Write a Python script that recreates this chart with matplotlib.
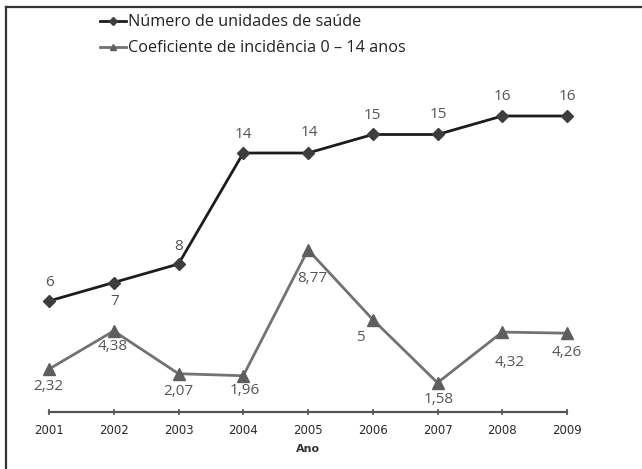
import matplotlib
matplotlib.use("Agg")
import matplotlib.pyplot as plt
from matplotlib.lines import Line2D

years = [2001, 2002, 2003, 2004, 2005, 2006, 2007, 2008, 2009]
unidades = [6, 7, 8, 14, 14, 15, 15, 16, 16]
coeficiente = [2.32, 4.38, 2.07, 1.96, 8.77, 5, 1.58, 4.32, 4.26]
unidades_lbl = ["6", "7", "8", "14", "14", "15", "15", "16", "16"]
coeficiente_lbl = ["2,32", "4,38", "2,07", "1,96", "8,77", "5", "1,58", "4,32", "4,26"]
series_names = ["Número de unidades de saúde", "Coeficiente de incidência 0 – 14 anos"]

plt.rcParams['font.family'] = ['Open Sans', 'DejaVu Sans']

W, H = 642, 469
fig = plt.figure(figsize=(W / 100, H / 100), dpi=100)
fig.patch.set_facecolor("white")

# frame lines on the left and top of the panel
fig.add_artist(Line2D([6 / W, 6 / W], [0, 1 - 7 / H], color="#333333", lw=1.6))
fig.add_artist(Line2D([6 / W, 1], [1 - 7 / H, 1 - 7 / H], color="#333333", lw=1.6))

# axes: x from 2001 (x=49px) to 2009 (x=567px), y=0 at 412px
x0, x1 = 49, 567
y0 = 412
ymax = 20
px_per_unit = 18.5
ax_h = ymax * px_per_unit
ax = fig.add_axes([x0 / W, (H - y0) / H, (x1 - x0) / W, ax_h / H])
ax.set_xlim(2001, 2009)
ax.set_ylim(0, ymax)
ax.patch.set_alpha(0)
for s in ["top", "right", "left"]:
    ax.spines[s].set_visible(False)
ax.spines["bottom"].set_color("#555555")
ax.spines["bottom"].set_linewidth(1.6)
ax.yaxis.set_visible(False)
ax.set_xticks(years)
ax.set_xticklabels([str(y) for y in years], fontsize=8.5, color="#2a2a2a",
                   family=["Liberation Sans Narrow", "DejaVu Sans"])
ax.tick_params(axis="x", direction="inout", length=5, width=1.2, color="#555555", pad=6)
ax.set_xlabel("Ano", fontsize=8, fontweight="bold", color="#333333", labelpad=5,
              family=["Liberation Sans Narrow", "DejaVu Sans"])

black = "#1c1c1c"
gray = "#727272"
ax.plot(years, unidades, color=black, lw=2, marker="D", markersize=6,
        markerfacecolor="#3d3d3d", markeredgecolor="#3d3d3d", clip_on=False,
        label=series_names[0])
ax.plot(years, coeficiente, color=gray, lw=2, marker="^", markersize=8.5,
        markerfacecolor="#5e5e5e", markeredgecolor="#5e5e5e", clip_on=False,
        label=series_names[1])

lbl_color = "#555555"
# label offsets in pixels (dx, dy)
u_off = [(0, 19), (1, -19), (0, 18), (0, 19), (1, 21), (0, 19), (1, 20), (0, 19), (0, 20)]
c_off = [(-1, -17), (-1, -16), (0, -18), (2, -15), (4, -29), (-12, -18), (1, -17), (7, -30), (0, -19)]
for x, v, t, (dx, dy) in zip(years, unidades, unidades_lbl, u_off):
    ax.annotate(t, (x, v), xytext=(dx, dy), textcoords="offset pixels",
                ha="center", va="center", fontsize=11, color=lbl_color)
for x, v, t, (dx, dy) in zip(years, coeficiente, coeficiente_lbl, c_off):
    ax.annotate(t, (x, v), xytext=(dx, dy), textcoords="offset pixels",
                ha="center", va="center", fontsize=11, color=lbl_color)

handles = [
    Line2D([], [], color=black, lw=2, marker="D", markersize=4,
           markerfacecolor="#3d3d3d", markeredgecolor="#3d3d3d"),
    Line2D([], [], color=gray, lw=2, marker="^", markersize=5,
           markerfacecolor="#5e5e5e", markeredgecolor="#5e5e5e"),
]
fig.legend(handles, series_names, loc="upper left",
           bbox_to_anchor=(94 / W, 1 - 8 / H), frameon=False, fontsize=11.7,
           handlelength=1.6, handletextpad=0.1, labelspacing=0.6,
           labelcolor="#222222", borderaxespad=0)

fig.savefig("out.png", dpi=100)
